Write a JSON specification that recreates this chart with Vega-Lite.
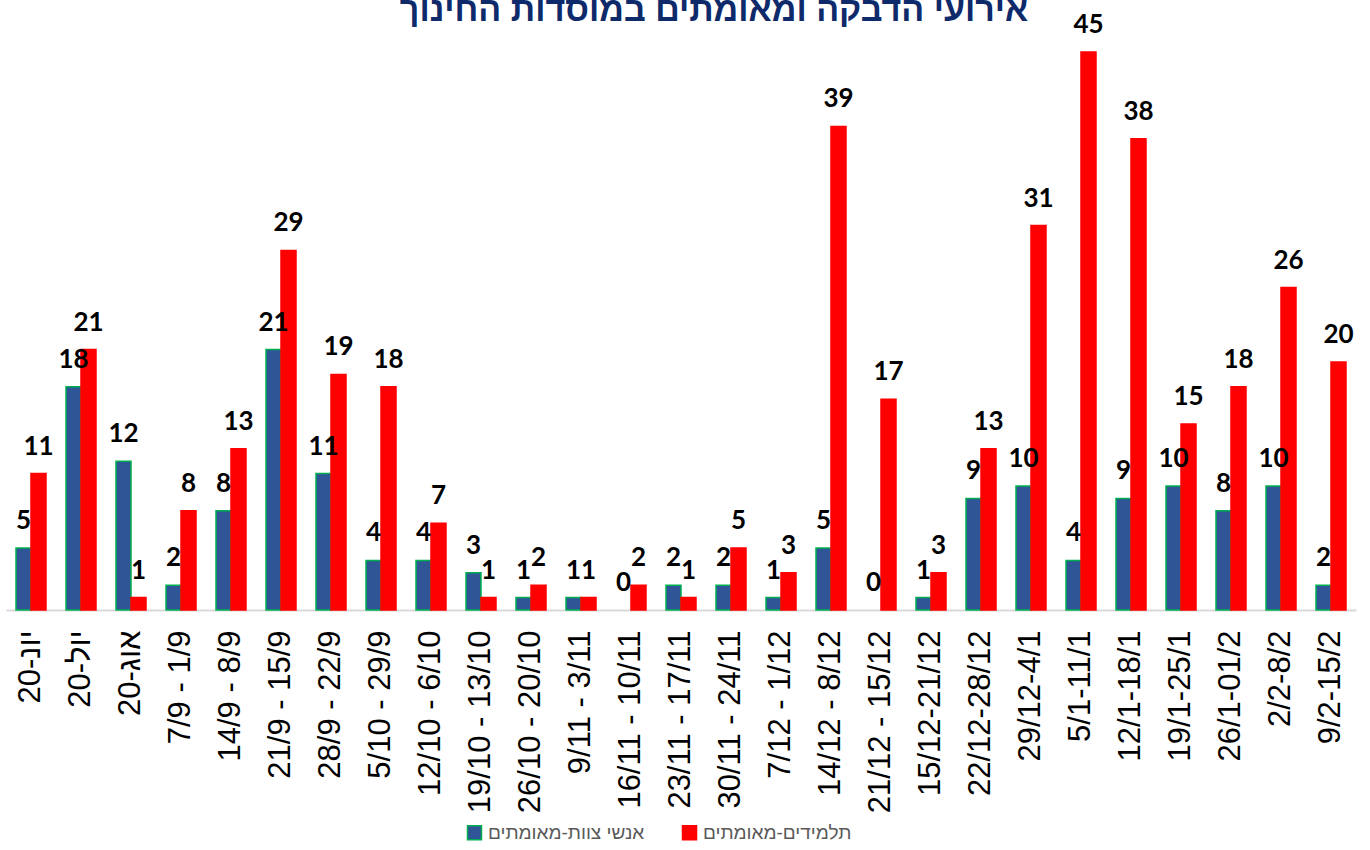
{
  "$schema": "https://vega.github.io/schema/vega-lite/v6.json",
  "width": 1350,
  "height": 558,
  "autosize": {"type": "none"},
  "padding": {"left": 6, "top": 52, "right": 14, "bottom": 240},
  "background": "white",
  "title": {
    "text": "אירועי הדבקה ומאומתים במוסדות החינוך",
    "font": "Arial, Liberation Sans, sans-serif",
    "fontSize": 34,
    "fontWeight": "bold",
    "color": "#0E2A6A",
    "anchor": "middle",
    "baseline": "alphabetic",
    "offset": 0,
    "dy": 43,
    "dx": 33
  },
  "config": {
    "view": {"stroke": null},
    "axis": {"grid": false}
  },
  "data": {
    "values": [
      {"period": "יונ-20", "series": "אנשי צוות-מאומתים", "value": 5},
      {"period": "יונ-20", "series": "תלמידים-מאומתים", "value": 11},
      {"period": "יול-20", "series": "אנשי צוות-מאומתים", "value": 18},
      {"period": "יול-20", "series": "תלמידים-מאומתים", "value": 21},
      {"period": "אוג-20", "series": "אנשי צוות-מאומתים", "value": 12},
      {"period": "אוג-20", "series": "תלמידים-מאומתים", "value": 1},
      {"period": "7/9 - 1/9", "series": "אנשי צוות-מאומתים", "value": 2},
      {"period": "7/9 - 1/9", "series": "תלמידים-מאומתים", "value": 8},
      {"period": "14/9 - 8/9", "series": "אנשי צוות-מאומתים", "value": 8},
      {"period": "14/9 - 8/9", "series": "תלמידים-מאומתים", "value": 13},
      {"period": "21/9 - 15/9", "series": "אנשי צוות-מאומתים", "value": 21},
      {"period": "21/9 - 15/9", "series": "תלמידים-מאומתים", "value": 29},
      {"period": "28/9 - 22/9", "series": "אנשי צוות-מאומתים", "value": 11},
      {"period": "28/9 - 22/9", "series": "תלמידים-מאומתים", "value": 19},
      {"period": "5/10 - 29/9", "series": "אנשי צוות-מאומתים", "value": 4},
      {"period": "5/10 - 29/9", "series": "תלמידים-מאומתים", "value": 18},
      {"period": "12/10 - 6/10", "series": "אנשי צוות-מאומתים", "value": 4},
      {"period": "12/10 - 6/10", "series": "תלמידים-מאומתים", "value": 7},
      {"period": "19/10 - 13/10", "series": "אנשי צוות-מאומתים", "value": 3},
      {"period": "19/10 - 13/10", "series": "תלמידים-מאומתים", "value": 1},
      {"period": "26/10 - 20/10", "series": "אנשי צוות-מאומתים", "value": 1},
      {"period": "26/10 - 20/10", "series": "תלמידים-מאומתים", "value": 2},
      {"period": "9/11 - 3/11", "series": "אנשי צוות-מאומתים", "value": 1},
      {"period": "9/11 - 3/11", "series": "תלמידים-מאומתים", "value": 1},
      {"period": "16/11 - 10/11", "series": "אנשי צוות-מאומתים", "value": 0},
      {"period": "16/11 - 10/11", "series": "תלמידים-מאומתים", "value": 2},
      {"period": "23/11 - 17/11", "series": "אנשי צוות-מאומתים", "value": 2},
      {"period": "23/11 - 17/11", "series": "תלמידים-מאומתים", "value": 1},
      {"period": "30/11 - 24/11", "series": "אנשי צוות-מאומתים", "value": 2},
      {"period": "30/11 - 24/11", "series": "תלמידים-מאומתים", "value": 5},
      {"period": "7/12 - 1/12", "series": "אנשי צוות-מאומתים", "value": 1},
      {"period": "7/12 - 1/12", "series": "תלמידים-מאומתים", "value": 3},
      {"period": "14/12 - 8/12", "series": "אנשי צוות-מאומתים", "value": 5},
      {"period": "14/12 - 8/12", "series": "תלמידים-מאומתים", "value": 39},
      {"period": "21/12 - 15/12", "series": "אנשי צוות-מאומתים", "value": 0},
      {"period": "21/12 - 15/12", "series": "תלמידים-מאומתים", "value": 17},
      {"period": "15/12-21/12", "series": "אנשי צוות-מאומתים", "value": 1},
      {"period": "15/12-21/12", "series": "תלמידים-מאומתים", "value": 3},
      {"period": "22/12-28/12", "series": "אנשי צוות-מאומתים", "value": 9},
      {"period": "22/12-28/12", "series": "תלמידים-מאומתים", "value": 13},
      {"period": "29/12-4/1", "series": "אנשי צוות-מאומתים", "value": 10},
      {"period": "29/12-4/1", "series": "תלמידים-מאומתים", "value": 31},
      {"period": "5/1-11/1", "series": "אנשי צוות-מאומתים", "value": 4},
      {"period": "5/1-11/1", "series": "תלמידים-מאומתים", "value": 45},
      {"period": "12/1-18/1", "series": "אנשי צוות-מאומתים", "value": 9},
      {"period": "12/1-18/1", "series": "תלמידים-מאומתים", "value": 38},
      {"period": "19/1-25/1", "series": "אנשי צוות-מאומתים", "value": 10},
      {"period": "19/1-25/1", "series": "תלמידים-מאומתים", "value": 15},
      {"period": "26/1-01/2", "series": "אנשי צוות-מאומתים", "value": 8},
      {"period": "26/1-01/2", "series": "תלמידים-מאומתים", "value": 18},
      {"period": "2/2-8/2", "series": "אנשי צוות-מאומתים", "value": 10},
      {"period": "2/2-8/2", "series": "תלמידים-מאומתים", "value": 26},
      {"period": "9/2-15/2", "series": "אנשי צוות-מאומתים", "value": 2},
      {"period": "9/2-15/2", "series": "תלמידים-מאומתים", "value": 20}
    ]
  },
  "encoding": {
    "x": {
      "field": "period",
      "type": "nominal",
      "sort": null,
      "scale": {"paddingInner": 0.4, "paddingOuter": 0.2},
      "axis": {
        "title": null,
        "labelAngle": -90,
        "labelFont": "Arial, Liberation Sans, sans-serif",
        "labelFontSize": 31,
        "labelColor": "#000000",
        "labelPadding": 20,
        "labelLimit": 300,
        "ticks": false,
        "domainColor": "#d9d9d9",
        "domainWidth": 2
      }
    },
    "xOffset": {
      "field": "series",
      "type": "nominal",
      "sort": ["אנשי צוות-מאומתים", "תלמידים-מאומתים"]
    },
    "y": {
      "field": "value",
      "type": "quantitative",
      "scale": {"domain": [0, 45], "nice": false, "zero": true},
      "axis": null
    }
  },
  "layer": [
    {
      "mark": {"type": "bar", "strokeWidth": 1.5},
      "encoding": {
        "color": {
          "field": "series",
          "type": "nominal",
          "scale": {
            "domain": ["אנשי צוות-מאומתים", "תלמידים-מאומתים"],
            "range": ["#2F5597", "#FF0000"]
          },
          "legend": {
            "title": null,
            "orient": "none",
            "direction": "horizontal",
            "legendX": 459,
            "legendY": 771,
            "symbolType": "square",
            "symbolSize": 196,
            "symbolStrokeWidth": 1.5,
            "labelFont": "Arial, Liberation Sans, sans-serif",
            "labelFontSize": 19,
            "labelColor": "#595959",
            "labelOffset": 4,
            "columnPadding": 34,
            "labelLimit": 400
          }
        },
        "stroke": {
          "field": "series",
          "type": "nominal",
          "scale": {
            "domain": ["אנשי צוות-מאומתים", "תלמידים-מאומתים"],
            "range": ["#00B050", "#FF0000"]
          },
          "legend": null
        },
        "strokeOpacity": {
          "condition": {"test": "datum.value === 0", "value": 0},
          "value": 1
        }
      }
    },
    {
      "mark": {
        "type": "text",
        "font": "Lato",
        "fontSize": 26,
        "fontWeight": "bold",
        "color": "#000000",
        "baseline": "alphabetic",
        "dy": -19
      },
      "encoding": {
        "text": {"field": "value", "type": "quantitative"}
      }
    }
  ]
}
